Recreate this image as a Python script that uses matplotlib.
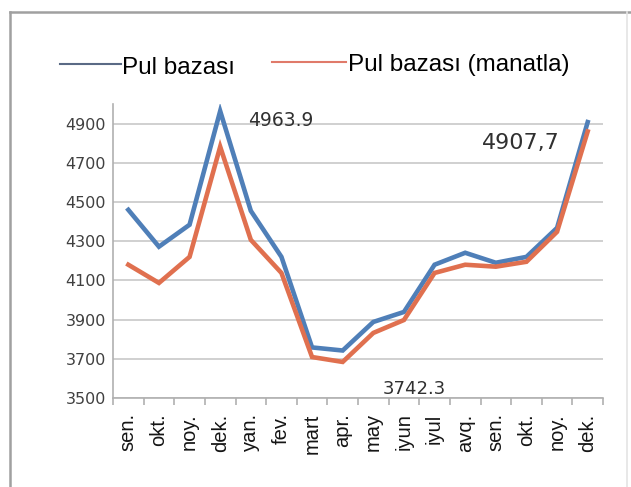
import matplotlib
matplotlib.use("Agg")
import matplotlib.pyplot as plt
from matplotlib.lines import Line2D

months = ["sen.", "okt.", "noy.", "dek.", "yan.", "fev.", "mart", "apr.",
          "may", "iyun", "iyul", "avq.", "sen.", "okt.", "noy.", "dek."]
pul_bazasi = [4460, 4272, 4384, 4963.9, 4455, 4220, 3758, 3742.3,
              3888, 3939, 4180, 4241, 4190, 4220, 4368, 4907.7]
pul_bazasi_manat = [4180, 4087, 4220, 4782, 4307, 4138, 3709, 3684,
                    3832, 3898, 4138, 4180, 4170, 4195, 4348, 4860]
yticks = [3500, 3700, 3900, 4100, 4300, 4500, 4700, 4900]
legend_labels = ["Pul bazası", "Pul bazası (manatla)"]
annotations = [(3, 4963.9, "4963.9"), (7, 3742.3, "3742.3"), (15, 4907.7, "4907,7")]

W, H = 631, 487
fig = plt.figure(figsize=(W / 100, H / 100), dpi=100)
fig.patch.set_facecolor("white")

# outer frame (left + top darker, right faint)
fig.lines.append(Line2D([10 / W, 10 / W], [0, 1 - 12 / H], transform=fig.transFigure,
                        color="#a0a0a0", lw=1.8))
fig.lines.append(Line2D([10 / W, 1.0], [1 - 12 / H, 1 - 12 / H], transform=fig.transFigure,
                        color="#a0a0a0", lw=1.8))
fig.lines.append(Line2D([627 / W, 627 / W], [0, 1 - 12 / H], transform=fig.transFigure,
                        color="#e4e4e4", lw=1.2))

ax = fig.add_axes([113 / W, 89 / H, 490 / W, 294 / H])
blue = "#4f7fb8"
red = "#e0704f"
x = list(range(len(months)))
ax.plot(x, pul_bazasi, color=blue, lw=3.3, solid_joinstyle="miter", zorder=3)
ax.plot(x, pul_bazasi_manat, color=red, lw=3.3, solid_joinstyle="miter", zorder=3)

ax.set_xlim(-0.5, len(months) - 0.5)
ax.set_ylim(3500, 5000)
ax.set_yticks(yticks)
ax.set_yticklabels([str(v) for v in yticks], color="#404040", fontsize=11.5,
                   family="DejaVu Sans")
ax.yaxis.grid(True, color="#c8c8c8", lw=1.2)
ax.set_axisbelow(True)
ax.tick_params(axis="y", length=0, pad=5)

ax.set_xticks(x)
ax.set_xticklabels(months, rotation=90, fontsize=14.5, family="Liberation Sans",
                   color="#151515")
ax.set_xticks([i - 0.5 for i in range(len(months) + 1)], minor=True)
ax.tick_params(axis="x", which="major", length=0, pad=11)
ax.tick_params(axis="x", which="minor", length=5, color="#b0b0b0", width=1.2)

for s in ["top", "right"]:
    ax.spines[s].set_visible(False)
ax.spines["left"].set_color("#b0b0b0")
ax.spines["bottom"].set_color("#b0b0b0")
ax.spines["left"].set_linewidth(1.2)
ax.spines["bottom"].set_linewidth(1.2)

# annotations
ax.annotate(annotations[0][2], xy=(annotations[0][0], annotations[0][1]),
            xytext=(20, -7), textcoords="offset points", fontsize=13.5,
            family="DejaVu Sans", color="#303030", va="center", ha="left")
ax.annotate(annotations[1][2], xy=(annotations[1][0], annotations[1][1]),
            xytext=(29, -28), textcoords="offset points", fontsize=13,
            family="DejaVu Sans", color="#303030", va="center", ha="left")
ax.annotate(annotations[2][2], xy=(annotations[2][0], annotations[2][1]),
            xytext=(-20, -15), textcoords="offset points", fontsize=16,
            family="DejaVu Sans", color="#303030", va="center", ha="right")

# legend
ly = 1 - 64 / H
fig.lines.append(Line2D([60 / W, 121 / W], [ly, ly], transform=fig.transFigure,
                        color="#5a6a85", lw=1.5))
fig.text(122 / W, ly - 4 / H, legend_labels[0], fontsize=17.5, family="Liberation Sans",
         va="center", ha="left")
fig.lines.append(Line2D([272 / W, 346 / W], [ly + 2 / H, ly + 2 / H],
                        transform=fig.transFigure, color="#e07a6a", lw=1.5))
fig.text(348 / W, ly - 1 / H, legend_labels[1], fontsize=17.5,
         family="Liberation Sans", va="center", ha="left")

fig.savefig("out.png", dpi=100)
